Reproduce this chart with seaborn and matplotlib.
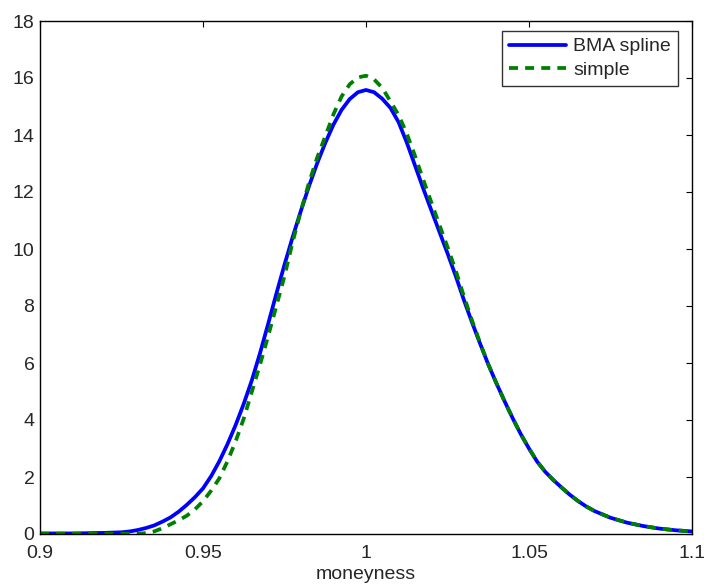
import numpy as np
import pandas as pd
import matplotlib
matplotlib.use("Agg")
import matplotlib.pyplot as plt
import seaborn as sns

# moneyness grid and densities
moneyness = [0.900, 0.905, 0.910, 0.915, 0.920, 0.925, 0.9275,
             0.930, 0.9325, 0.935, 0.9375, 0.940, 0.9425, 0.945, 0.9475,
             0.950, 0.9525, 0.955, 0.9575, 0.960, 0.9625, 0.965, 0.9675,
             0.970, 0.9725, 0.975, 0.9775, 0.980, 0.9825, 0.985, 0.9875,
             0.990, 0.9925, 0.995, 0.9975, 1.000, 1.0025, 1.005, 1.0075,
             1.010, 1.0125, 1.015, 1.0175, 1.020, 1.0225, 1.025, 1.0275,
             1.030, 1.0325, 1.035, 1.0375, 1.040, 1.0425, 1.045, 1.0475,
             1.050, 1.0525, 1.055, 1.0575, 1.060, 1.0625, 1.065, 1.0675,
             1.070, 1.0725, 1.075, 1.080, 1.085, 1.090, 1.095, 1.100]

bma_spline = [0.02, 0.02, 0.02, 0.03, 0.04, 0.06, 0.09,
              0.14, 0.21, 0.30, 0.43, 0.58, 0.78, 1.02, 1.29,
              1.60, 2.03, 2.55, 3.15, 3.82, 4.57, 5.40, 6.35,
              7.38, 8.43, 9.45, 10.42, 11.33, 12.20, 13.00, 13.72,
              14.36, 14.88, 15.26, 15.50, 15.58, 15.50, 15.27, 14.95,
              14.45, 13.74, 12.94, 12.14, 11.37, 10.61, 9.85, 9.06,
              8.22, 7.43, 6.68, 5.95, 5.29, 4.66, 4.06, 3.50,
              3.00, 2.54, 2.18, 1.89, 1.63, 1.38, 1.16, 0.97,
              0.81, 0.69, 0.57, 0.40, 0.28, 0.19, 0.13, 0.09]

simple = [0.01, 0.01, 0.01, 0.01, 0.01, 0.01, 0.01,
          0.01, 0.03, 0.09, 0.20, 0.34, 0.48, 0.64, 0.86,
          1.15, 1.52, 1.95, 2.55, 3.25, 4.05, 5.00, 5.95,
          6.95, 8.00, 9.05, 10.25, 11.32, 12.32, 13.20, 13.95,
          14.72, 15.35, 15.78, 16.02, 16.08, 15.95, 15.65, 15.18,
          14.70, 14.05, 13.28, 12.45, 11.65, 10.85, 10.07, 9.25,
          8.35, 7.50, 6.70, 5.96, 5.29, 4.66, 4.06, 3.50,
          3.00, 2.54, 2.18, 1.89, 1.63, 1.38, 1.16, 0.97,
          0.81, 0.69, 0.57, 0.40, 0.28, 0.19, 0.13, 0.09]

df = pd.DataFrame({"moneyness": moneyness, "BMA spline": bma_spline, "simple": simple})

sns.set_style("white")
plt.rcParams["font.family"] = ["Liberation Sans", "DejaVu Sans"]

fig = plt.figure(figsize=(7.04, 5.85), dpi=100)
ax = fig.add_axes([40 / 704, 51 / 585, 652 / 704, 513 / 585])

sns.lineplot(data=df, x="moneyness", y="BMA spline", ax=ax, color=(0, 0, 1),
             linewidth=2.7, label="BMA spline")
sns.lineplot(data=df, x="moneyness", y="simple", ax=ax, color=(0, 0.5, 0),
             linewidth=2.7, linestyle=(0, (2.4, 1.9)), label="simple")

ax.set_xlim(0.9, 1.1)
ax.set_ylim(0, 18)
ax.set_xticks([0.9, 0.95, 1.0, 1.05, 1.1])
ax.set_xticklabels(["0.9", "0.95", "1", "1.05", "1.1"])
ax.set_yticks(range(0, 19, 2))
ax.set_xlabel("moneyness", fontsize=14, labelpad=3)
ax.set_ylabel("")

for s in ax.spines.values():
    s.set_color("black")
    s.set_linewidth(1)
ax.tick_params(direction="in", top=True, right=True, length=4.3, width=0.8,
               labelsize=14, color="black")
ax.tick_params(axis="x", pad=8)
ax.tick_params(axis="y", pad=4)

leg = ax.legend(loc="upper right", bbox_to_anchor=(678 / 704, 554 / 585),
                bbox_transform=fig.transFigure, borderaxespad=0,
                fontsize=14, handlelength=2.9, frameon=True, fancybox=False,
                handletextpad=0.4, labelspacing=0.3, borderpad=0.35)
leg.get_frame().set_edgecolor("black")
leg.get_frame().set_linewidth(1)

fig.savefig("out.png", dpi=100)
